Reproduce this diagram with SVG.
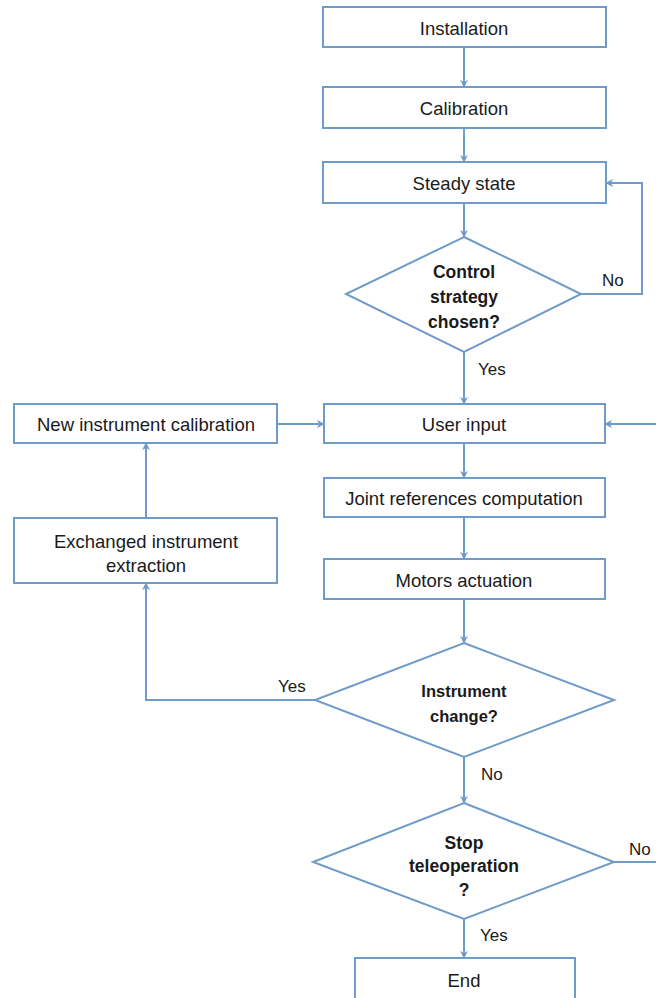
<svg xmlns="http://www.w3.org/2000/svg" width="656" height="998" viewBox="0 0 656 998">
<defs>
<marker id="ah" viewBox="0 0 10 10" refX="9" refY="5" markerWidth="8" markerHeight="8" markerUnits="userSpaceOnUse" orient="auto">
<path d="M0,0 L10,5 L0,10 L3,5 Z" fill="#6f9bc8"/>
</marker>
<style>
.box{fill:#fff;stroke:#6f9bc8;stroke-width:2}
.ln{fill:none;stroke:#6f9bc8;stroke-width:2}
.t{font-family:"Liberation Sans",Arial,sans-serif;font-size:18.5px;fill:#1a1a1a;text-anchor:middle}
.b{font-weight:bold;font-size:17.5px}
.l{font-family:"Liberation Sans",Arial,sans-serif;font-size:17px;fill:#1a1a1a}
</style>
</defs>
<rect width="656" height="998" fill="#fff"/>
<g id="connectors">
<line class="ln" x1="464" y1="47" x2="464" y2="87" marker-end="url(#ah)"/>
<line class="ln" x1="464" y1="128" x2="464" y2="162" marker-end="url(#ah)"/>
<line class="ln" x1="464" y1="203" x2="464" y2="237" marker-end="url(#ah)"/>
<polyline class="ln" points="581,294 642,294 642,183 606,183" marker-end="url(#ah)"/>
<line class="ln" x1="464" y1="352" x2="464" y2="404" marker-end="url(#ah)"/>
<line class="ln" x1="277" y1="424" x2="324" y2="424" marker-end="url(#ah)"/>
<line class="ln" x1="656" y1="424" x2="605" y2="424" marker-end="url(#ah)"/>
<line class="ln" x1="464" y1="443" x2="464" y2="478" marker-end="url(#ah)"/>
<line class="ln" x1="464" y1="517" x2="464" y2="559" marker-end="url(#ah)"/>
<line class="ln" x1="464" y1="599" x2="464" y2="643" marker-end="url(#ah)"/>
<polyline class="ln" points="315,700 146,700 146,583" marker-end="url(#ah)"/>
<line class="ln" x1="146" y1="518" x2="146" y2="443" marker-end="url(#ah)"/>
<line class="ln" x1="464" y1="757" x2="464" y2="803" marker-end="url(#ah)"/>
<line class="ln" x1="614" y1="862" x2="656" y2="862"/>
<line class="ln" x1="464" y1="919" x2="464" y2="958" marker-end="url(#ah)"/>
<text class="l" x="602" y="286">No</text>
<text class="l" x="478" y="375">Yes</text>
<text class="l" x="278" y="692">Yes</text>
<text class="l" x="481" y="780">No</text>
<text class="l" x="629" y="855">No</text>
<text class="l" x="480" y="941">Yes</text>
</g>
<g id="installation"><rect class="box" x="323" y="7" width="283" height="40"/><text class="t" x="464" y="35">Installation</text></g>
<g id="calibration"><rect class="box" x="323" y="87" width="283" height="41"/><text class="t" x="464" y="115">Calibration</text></g>
<g id="steady"><rect class="box" x="323" y="162" width="283" height="41"/><text class="t" x="464" y="190">Steady state</text></g>
<g id="control"><polygon class="box" points="464,237 581,294 464,352 346,294"/>
<text class="t b" x="464" y="278">Control</text><text class="t b" x="464" y="303">strategy</text><text class="t b" x="464" y="328">chosen?</text></g>
<g id="userinput"><rect class="box" x="324" y="404" width="281" height="39"/><text class="t" x="464" y="431">User input</text></g>
<g id="newcal"><rect class="box" x="14" y="404" width="263" height="39"/><text class="t" x="146" y="431">New instrument calibration</text></g>
<g id="joint"><rect class="box" x="324" y="478" width="281" height="39"/><text class="t" x="464" y="505">Joint references computation</text></g>
<g id="motors"><rect class="box" x="324" y="559" width="281" height="40"/><text class="t" x="464" y="587">Motors actuation</text></g>
<g id="exchanged"><rect class="box" x="14" y="518" width="263" height="65"/><text class="t" x="146" y="548">Exchanged instrument</text><text class="t" x="146" y="572">extraction</text></g>
<g id="change"><polygon class="box" points="464,643 614,700 464,757 315,700"/>
<text class="t b" x="464" y="697" style="font-size:16.5px">Instrument</text><text class="t b" x="464" y="722" style="font-size:16.5px">change?</text></g>
<g id="stop"><polygon class="box" points="464,803 614,862 464,919 313,862"/>
<text class="t b" x="464" y="849">Stop</text><text class="t b" x="464" y="872">teleoperation</text><text class="t b" x="464" y="896">?</text></g>
<g id="end"><rect class="box" x="355" y="958" width="220" height="45"/><text class="t" x="464" y="987">End</text></g>
</svg>
